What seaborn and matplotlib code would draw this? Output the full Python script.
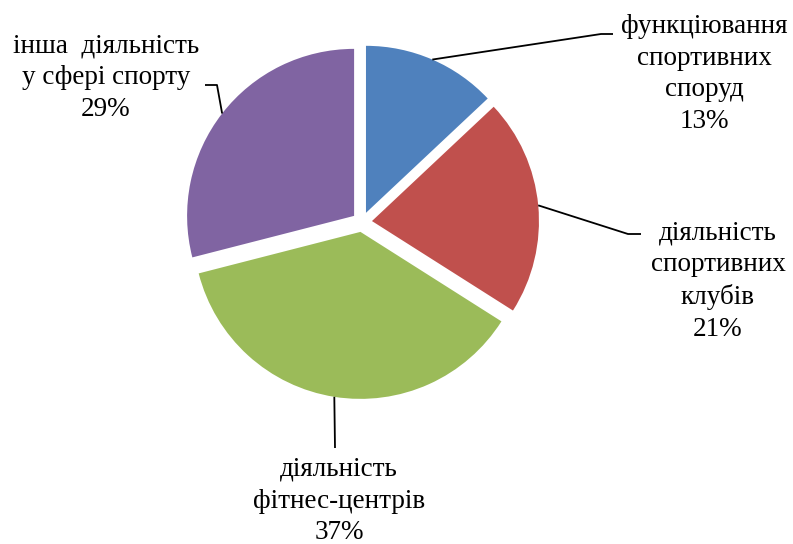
import numpy as np
import matplotlib
matplotlib.use("Agg")
import matplotlib.pyplot as plt
import seaborn as sns

# data
categories = [
    "функціювання\nспортивних\nспоруд",
    "діяльність\nспортивних\nклубів",
    "діяльність\nфітнес-центрів",
    "інша  діяльність\nу сфері спорту",
]
shares = [13, 21, 37, 29]
colors = ["#4F81BD", "#C0504D", "#9BBB59", "#8064A2"]

sns.set_theme(style="white")
plt.rcParams["font.family"] = ["Liberation Serif", "DejaVu Serif"]

W, H = 793, 544
fig = plt.figure(figsize=(W / 100, H / 100), dpi=100)
ax = fig.add_axes([0, 0, 1, 1])

# pie drawn in pixel units (y measured from bottom)
wedges, _ = ax.pie(
    shares,
    colors=colors,
    startangle=90,
    counterclock=False,
    radius=167,
    center=(362, H - 222),
    explode=[10] * len(shares),
    wedgeprops={"linewidth": 0},
    frame=True,
)
ax.set_xlim(0, W)
ax.set_ylim(0, H)
ax.set_aspect("equal")
ax.axis("off")

# label layout: (text x, text y, elbow point, end point), pixel coords from top
layout = [
    (704, 74, (601, 34), (613, 34)),
    (718, 281, (628, 234), (641, 234)),
    (339, 501, (335, 448), (335, 448)),
    (106, 78, (217, 85), (205, 85)),
]

for w, cat, val, (tx, ty, elbow, end) in zip(wedges, categories, shares, layout):
    mid = np.deg2rad((w.theta1 + w.theta2) / 2)
    cx, cy = w.center
    x0 = cx + w.r * np.cos(mid)
    y0 = cy + w.r * np.sin(mid)
    ax.plot([x0, elbow[0], end[0]], [y0, H - elbow[1], H - end[1]],
            color="black", lw=1.3, solid_capstyle="butt")
    ax.text(tx, H - ty, f"{cat}\n{val}%", ha="center", va="center",
            fontsize=19.5, linespacing=1.35, color="black")

fig.savefig("out.png", dpi=100)
